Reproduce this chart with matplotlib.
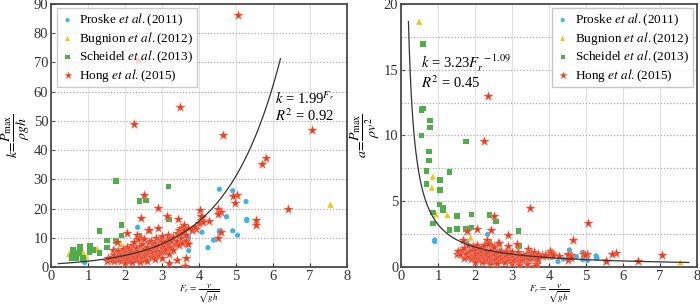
import matplotlib
matplotlib.use("Agg")
import matplotlib.pyplot as plt
import numpy as np
from matplotlib.ticker import MultipleLocator

plt.rcParams['font.family'] = ['Liberation Serif', 'DejaVu Serif']
plt.rcParams['mathtext.fontset'] = 'stix'

# ---------------- data ----------------
proske_fr = [0.91, 0.91, 1.74, 2.34, 2.34, 2.87, 3.60, 3.72, 3.72, 4.08, 4.24, 4.39,
             4.55, 4.55, 4.55, 4.74, 4.91, 4.91, 5.04, 5.27, 5.29, 5.29, 2.10, 2.60]
proske_k = [1.7, 1.6, 5.8, 13.6, 2.0, 5.2, 8.8, 10.0, 5.6, 11.9, 6.6, 9.2,
            26.6, 12.4, 11.9, 17.2, 12.4, 26.1, 10.9, 22.4, 15.9, 16.3, 3.5, 4.5]
proske_a = [2.05, 1.93, 1.92, 2.48, 0.37, 0.63, 0.68, 0.72, 0.40, 0.71, 0.42, 0.60,
            1.30, 0.60, 0.57, 0.80, 0.55, 1.12, 0.50, 0.85, 0.65, 0.70, 0.79, 0.67]

bugnion_fr = [0.49, 0.86, 0.83, 0.94, 1.25, 1.88, 7.55]
bugnion_k = [4.5, 5.1, 4.2, 3.5, 6.2, 7.9, 21.3]
bugnion_a = [18.65, 6.87, 6.03, 4.0, 3.95, 2.23, 0.35]

scheidel_fr = [0.59, 0.55, 0.60, 0.78, 0.78, 0.55, 0.75, 0.75, 0.69, 1.31, 0.69, 1.05,
               1.05, 1.04, 1.14, 1.14, 0.87, 0.87, 1.52, 1.90, 1.31, 1.52, 1.76, 1.90,
               1.76, 2.39, 2.57, 3.17, 2.39, 3.19]
scheidel_k = [5.9, 3.6, 4.3, 6.8, 6.5, 3.0, 4.9, 4.6, 3.5, 12.4, 3.0, 7.3,
              6.5, 5.1, 5.9, 5.6, 3.1, 2.5, 9.0, 14.4, 4.8, 6.6, 8.9, 10.8,
              29.5, 22.6, 22.8, 27.5, 10.8, 16.2]
scheidel_a = [16.96, 11.94, 12.04, 11.13, 10.62, 9.99, 8.77, 8.09, 7.32, 7.22, 6.31, 6.61,
              5.86, 4.74, 4.54, 4.33, 4.16, 3.32, 3.88, 4.0, 2.81, 2.87, 2.87, 2.99,
              9.53, 3.95, 3.45, 2.74, 1.89, 1.59]

hong_fr = [5.04, 2.34, 3.48, 2.25, 4.65, 7.06, 5.81, 5.69, 6.41, 5.55, 5.02, 4.93, 4.97,
           4.52, 4.59, 4.52, 4.50, 4.03, 4.05, 4.07, 4.28, 3.92, 3.80, 3.68, 3.64, 3.62,
           3.19, 3.40, 2.52, 2.89, 3.14, 3.43, 2.61, 2.04, 2.43, 2.43, 1.78, 1.68, 2.32,
           1.50, 1.55, 1.60, 1.65, 1.70, 1.70, 1.75, 1.80, 1.80, 1.85, 1.90, 1.90, 1.95,
           1.95, 2.00, 2.00, 2.00, 2.00, 2.05, 2.05, 2.10, 2.10, 2.10, 2.15, 2.15, 2.20,
           2.20, 2.20, 2.25, 2.25, 2.25, 2.30, 2.30, 2.30, 2.35, 2.35, 2.35, 2.40, 2.40,
           2.40, 2.45, 2.45, 2.45, 2.50, 2.50, 2.50, 2.50, 2.55, 2.55, 2.60, 2.60, 2.60,
           2.64, 2.65, 2.65, 2.70, 2.70, 2.70, 2.75, 2.75, 2.80, 2.80, 2.80, 2.85, 2.85,
           2.90, 2.90, 2.90, 2.95, 2.95, 3.00, 3.00, 3.00, 3.00, 3.05, 3.05, 3.10, 3.10,
           3.15, 3.15, 3.20, 3.20, 3.20, 3.25, 3.25, 3.30, 3.30, 3.35, 3.40, 3.40, 3.45,
           3.45, 3.50, 3.50, 3.55, 3.55, 3.60, 3.60, 3.65, 3.65, 3.70, 3.70, 3.80, 3.90,
           4.00, 4.05, 4.10, 4.60, 5.55]
hong_k = [86.3, 70.7, 54.8, 49.0, 45.0, 47.0, 37.4, 35.1, 19.8, 14.4, 24.6, 24.3, 21.8,
          19.7, 18.9, 18.1, 9.8, 19.5, 16.1, 17.2, 15.8, 12.9, 12.7, 8.1, 3.0, 0.5,
          1.5, 2.5, 24.6, 20.1, 17.5, 16.4, 12.6, 11.7, 16.8, 9.8, 8.7, 5.8, 11.0,
          2.2, 3.0, 2.5, 3.5, 2.0, 4.2, 3.0, 2.5, 5.5, 3.8, 2.2, 4.6, 3.2,
          6.0, 1.5, 2.8, 4.2, 5.5, 3.5, 7.0, 2.2, 4.8, 6.2, 3.0, 5.6, 1.8,
          4.0, 7.5, 3.3, 5.0, 8.6, 2.5, 4.5, 6.5, 3.8, 5.6, 9.5, 1.6, 4.2,
          7.2, 3.2, 5.2, 8.0, 2.5, 4.8, 6.3, 9.5, 3.8, 5.8, 2.2, 4.5, 7.0,
          12.8, 5.4, 8.5, 3.5, 6.2, 9.0, 4.8, 7.4, 2.8, 5.8, 8.2, 6.8, 10.0,
          4.0, 7.5, 13.5, 5.5, 9.2, 3.0, 6.5, 8.5, 10.5, 7.2, 5.0, 9.0, 6.0,
          8.0, 11.0, 4.5, 7.0, 9.5, 6.5, 8.8, 10.2, 5.8, 8.0, 11.5, 9.0, 12.5,
          7.5, 10.0, 13.5, 11.8, 8.2, 12.8, 14.5, 11.0, 9.0, 13.5, 8.0, 12.5, 13.8,
          15.0, 17.5, 15.5, 12.0, 16.0]
hong_a = [3.32, 13.0, 4.45, 9.6, 2.05, 0.93, 1.05, 1.02, 0.45, 0.42, 0.97, 1.00, 0.90,
          0.96, 0.90, 0.88, 0.50, 1.20, 0.98, 1.04, 0.86, 0.84, 0.88, 0.60, 0.23, 0.08,
          0.15, 0.22, 3.90, 2.40, 1.77, 1.40, 1.85, 2.90, 2.80, 1.66, 2.75, 2.05, 2.05,
          0.98, 1.25, 0.98, 1.29, 0.69, 1.45, 0.98, 0.77, 1.70, 1.11, 0.61, 1.27, 0.84,
          1.58, 0.38, 0.70, 1.05, 1.38, 0.83, 1.67, 0.50, 1.09, 1.41, 0.65, 1.21, 0.37,
          0.83, 1.55, 0.65, 0.99, 1.70, 0.47, 0.85, 1.23, 0.69, 1.01, 1.72, 0.28, 0.73,
          1.25, 0.53, 0.87, 1.33, 0.40, 0.77, 1.01, 1.52, 0.58, 0.89, 0.33, 0.67, 1.04,
          1.83, 0.77, 1.21, 0.48, 0.85, 1.23, 0.63, 0.98, 0.36, 0.74, 1.05, 0.84, 1.23,
          0.48, 0.89, 1.61, 0.63, 1.06, 0.33, 0.72, 0.94, 1.17, 0.77, 0.54, 0.94, 0.62,
          0.81, 1.11, 0.44, 0.68, 0.93, 0.62, 0.83, 0.94, 0.53, 0.71, 0.99, 0.78, 1.05,
          0.63, 0.82, 1.10, 0.94, 0.65, 0.99, 1.12, 0.83, 0.68, 0.99, 0.58, 0.87, 0.91,
          0.94, 1.07, 0.92, 0.70, 0.42]

labels = ['Proske $\\mathit{et\\ al.}$(2011)', 'Bugnion $\\mathit{et\\ al.}$(2012)',
          'Scheidel $\\mathit{et\\ al.}$(2013)', 'Hong $\\mathit{et\\ al.}$(2015)']

# fit parameters
k_base = 1.99
a_coef, a_exp = 3.23, -1.09

# ---------------- styles ----------------
c_blue = '#3cb4e6'
c_yel = '#f7c21b'
c_green = '#4fae4a'
c_red = '#e63e22'

fig = plt.figure(figsize=(7.0, 3.07), dpi=100)
ax1 = fig.add_axes([0.0729, 0.1303, 0.4229, 0.8567])
ax2 = fig.add_axes([0.5729, 0.1303, 0.4229, 0.8567])


def style(ax):
    for s in ax.spines.values():
        s.set_color('#4a4a4a')
        s.set_linewidth(1.3)
    ax.tick_params(direction='in', length=3, width=0.8, labelsize=10.5,
                   colors='#333333', pad=2)
    ax.xaxis.grid(True, color='#e4e0e0', linewidth=0.8, linestyle='-')
    ax.set_axisbelow(True)


def scatter_all(ax, yb, yy, yg, yr):
    ax.scatter(proske_fr, yb, s=14, marker='o', color=c_blue, edgecolors='none',
               label=labels[0], zorder=3)
    ax.scatter(bugnion_fr, yy, s=20, marker='^', color=c_yel, edgecolors='none',
               label=labels[1], zorder=3)
    ax.scatter(scheidel_fr, yg, s=16, marker='s', color=c_green, edgecolors='none',
               label=labels[2], zorder=3)
    ax.scatter(hong_fr, yr, s=50, marker='*', color=c_red, edgecolors='#f08a76',
               linewidths=0.3, label=labels[3], zorder=4)


def make_legend(ax, loc, anchor, alpha):
    leg = ax.legend(loc=loc, fontsize=9.5, frameon=True, framealpha=alpha,
                    edgecolor='#bbbbbb', fancybox=False, handletextpad=0.4,
                    labelspacing=0.12, borderpad=0.3, handlelength=1.0,
                    markerscale=0.8, bbox_to_anchor=anchor, borderaxespad=0)
    leg.get_frame().set_linewidth(1.0)
    leg.set_zorder(4.5)
    return leg


xlab = '$F_r\\,=\\,\\dfrac{v}{\\sqrt{gh}}$'

# left panel
style(ax1)
scatter_all(ax1, proske_k, bugnion_k, scheidel_k, hong_k)
xf = np.linspace(0.2, 6.2, 200)
ax1.plot(xf, k_base ** xf, color='#333333', lw=0.9, zorder=5)
ax1.set_xlim(0, 8)
ax1.set_ylim(0, 90)
ax1.xaxis.set_major_locator(MultipleLocator(1))
ax1.yaxis.set_major_locator(MultipleLocator(10))
for v in range(10, 90, 10):
    ax1.axhline(v, color='#aaaaaa', lw=0.9, ls=(0, (1, 1.5)), zorder=1)
ax1.text(6.05, 57.5, '$k$ = 1.99$^{F_r}$', fontsize=10.5, va='center', ha='left', zorder=6)
ax1.text(6.05, 51.8, '$R^2$ = 0.92', fontsize=10.5, va='center', ha='left', zorder=6)
ax1.set_ylabel('$k\\!=\\!\\dfrac{P_{\\rm max}}{\\rho gh}$', fontsize=10, labelpad=1)
ax1.set_xlabel(xlab, fontsize=6.5, labelpad=0)
make_legend(ax1, 'upper left', (0.02, 0.985), 0.75)

# right panel
style(ax2)
scatter_all(ax2, proske_a, bugnion_a, scheidel_a, hong_a)
xa = np.linspace(0.2, 7.78, 300)
ax2.plot(xa, a_coef * xa ** a_exp, color='#333333', lw=0.9, zorder=5)
ax2.set_xlim(0, 8)
ax2.set_ylim(0, 20)
ax2.xaxis.set_major_locator(MultipleLocator(1))
ax2.yaxis.set_major_locator(MultipleLocator(5))
for v in np.arange(2.5, 20, 2.5):
    ax2.axhline(v, color='#aaaaaa', lw=0.9, ls=(0, (1, 1.5)), zorder=1)
ax2.text(0.55, 15.5, '$k$ = 3.23$F_r^{\\ -1.09}$', fontsize=10.5, va='center', ha='left', zorder=6)
ax2.text(0.55, 14.0, '$R^2$ = 0.45', fontsize=10.5, va='center', ha='left', zorder=6)
ax2.set_ylabel('$a\\!=\\!\\dfrac{P_{\\rm max}}{\\rho v^2}$', fontsize=10, labelpad=1)
ax2.set_xlabel(xlab, fontsize=6.5, labelpad=0)
make_legend(ax2, 'upper right', (0.985, 0.985), 0.85)

fig.savefig('out.png', dpi=100)
